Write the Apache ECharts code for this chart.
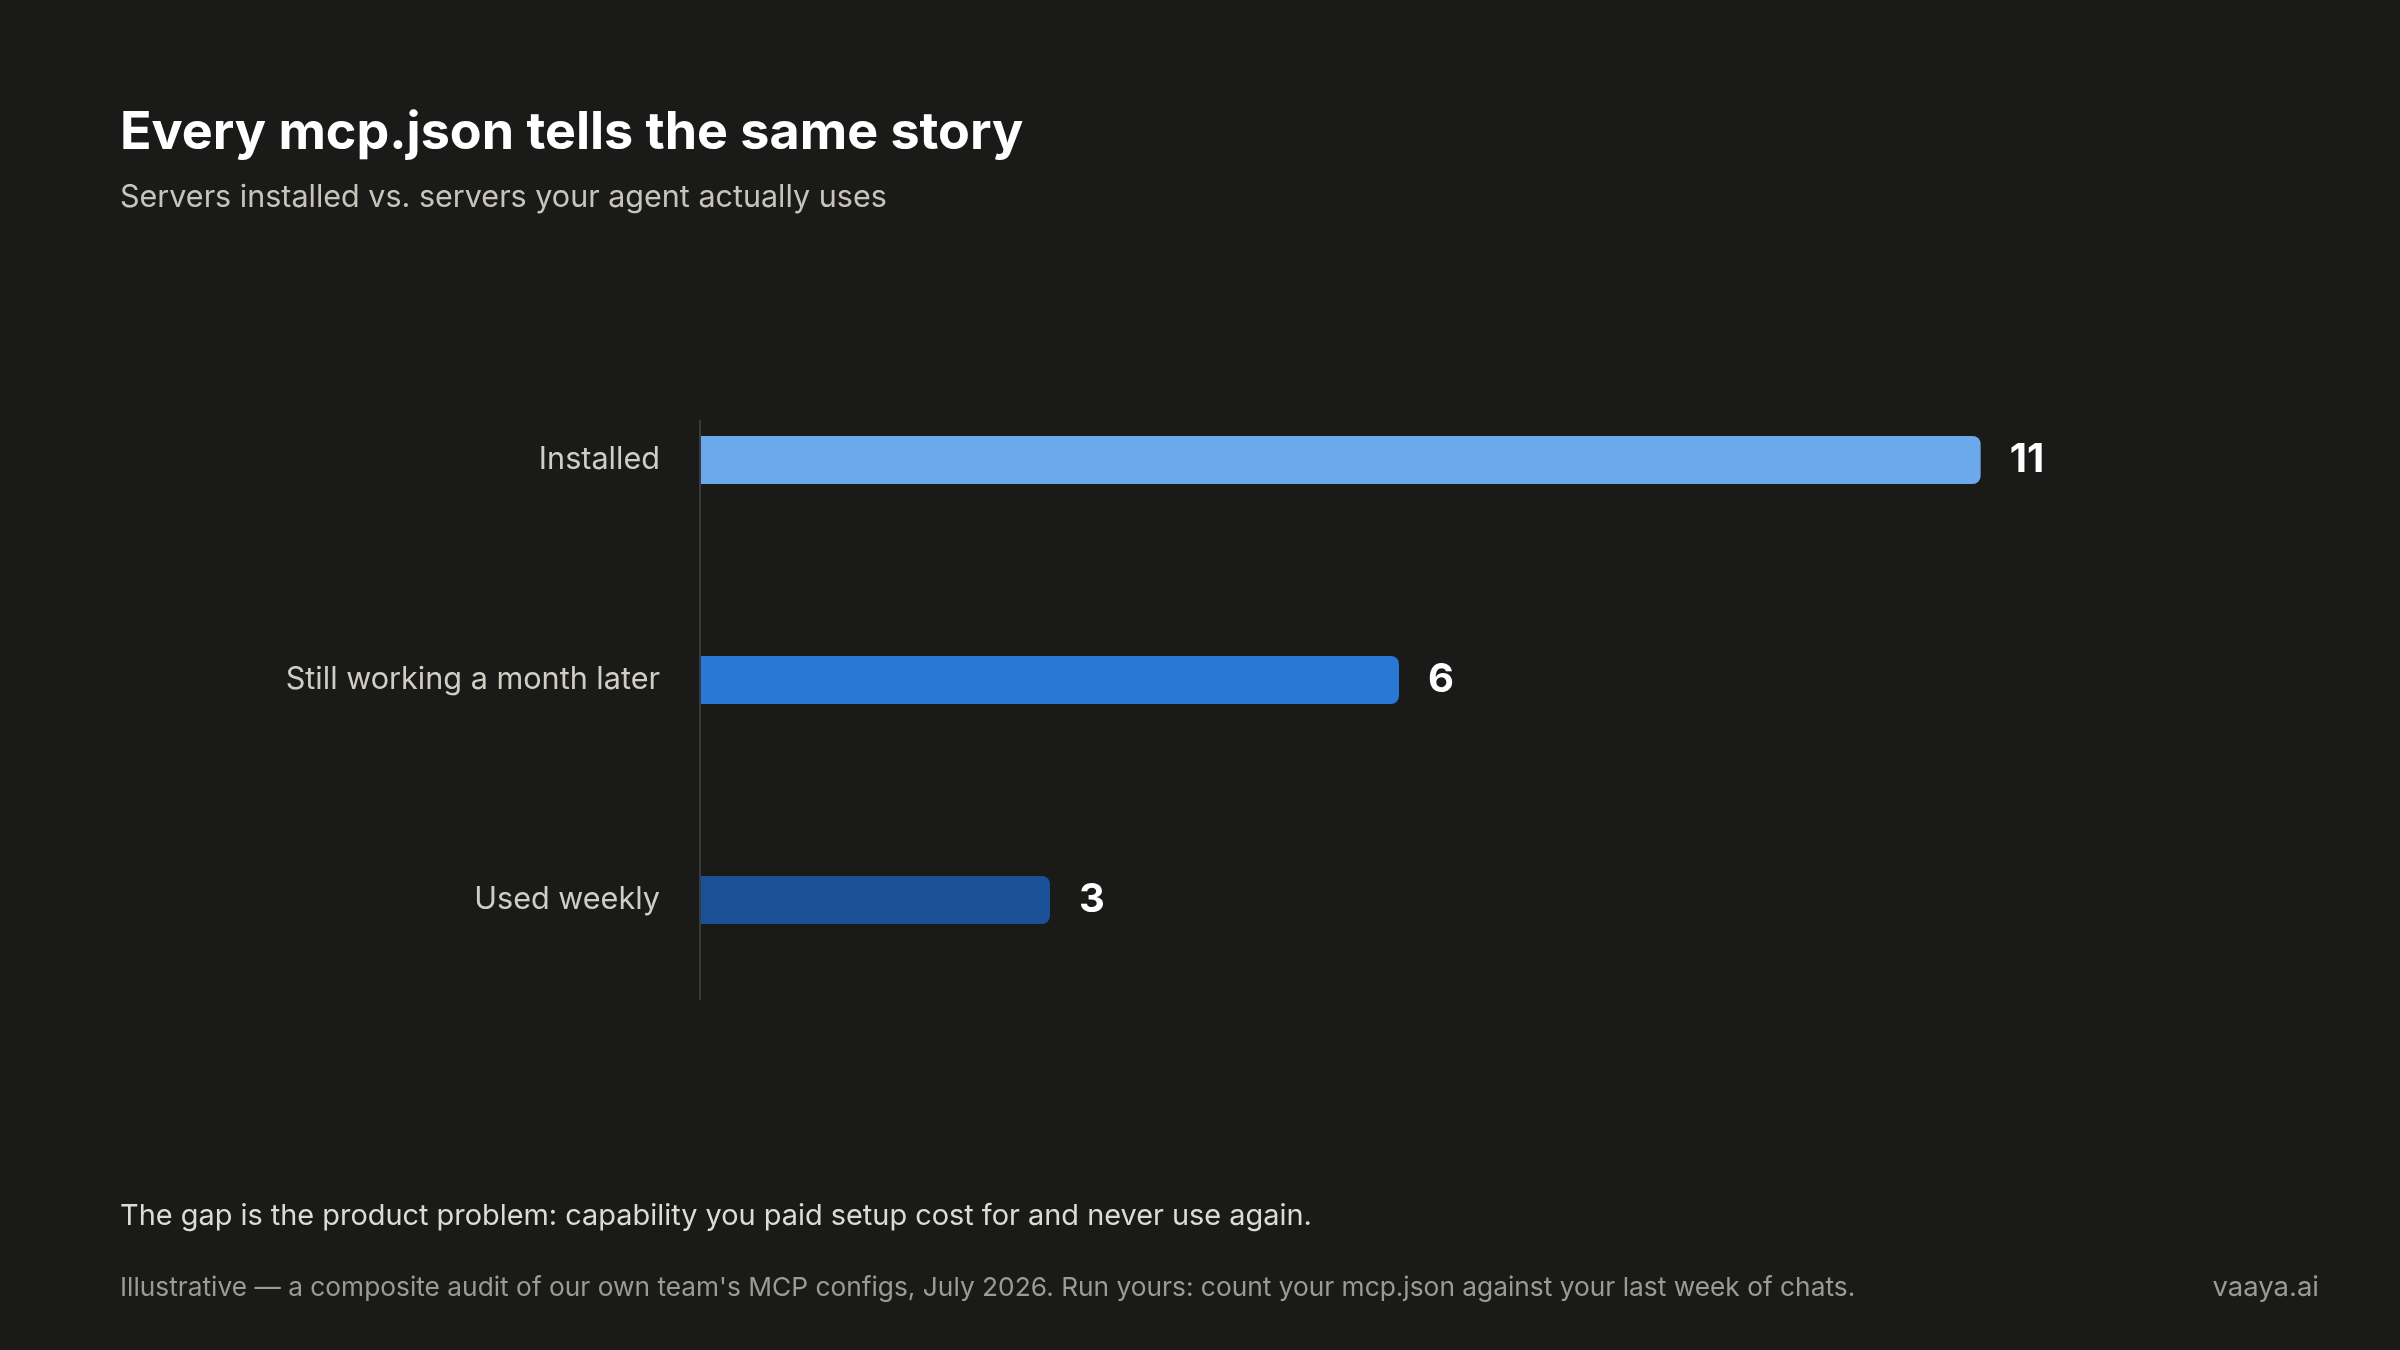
<!DOCTYPE html>
<html>
<head>
<meta charset="utf-8">
<title>Every mcp.json tells the same story</title>
<script src="https://cdn.jsdelivr.net/npm/echarts@6/dist/echarts.min.js"></script>
<style>
    html, body { margin: 0; padding: 0; background: #1a1a19; }
    #chart { width: 2400px; height: 1350px; }
</style>
</head>
<body>
<div id="chart"></div>
<script>
var categories = ['Installed', 'Still working a month later', 'Used weekly'];
var serverCounts = [11, 6, 3];
var barColors = ['#6ca8ec', '#2a78d6', '#1a5096'];

var font = 'Inter, "Noto Sans", sans-serif';

var myChart = echarts.init(document.getElementById('chart'));

myChart.setOption({
    backgroundColor: '#1a1a19',
    textStyle: { fontFamily: font },
    title: [
        {
            text: 'Every mcp.json tells the same story',
            left: 115, top: 102,
            textStyle: { color: '#ffffff', fontSize: 52, fontWeight: 'bold', fontFamily: font, lineHeight: 52 }
        },
        {
            text: 'Servers installed vs. servers your agent actually uses',
            left: 115, top: 178,
            textStyle: { color: '#c6c4bb', fontSize: 30.5, fontWeight: 'normal', fontFamily: font, lineHeight: 30 }
        },
        {
            text: 'The gap is the product problem: capability you paid setup cost for and never use again.',
            left: 115, top: 1197,
            textStyle: { color: '#dddbd3', fontSize: 28.9, fontWeight: 'normal', fontFamily: font, lineHeight: 29 }
        },
        {
            text: 'Illustrative \u2014 a composite audit of our own team\'s MCP configs, July 2026. Run yours: count your mcp.json against your last week of chats.',
            left: 115, top: 1270,
            textStyle: { color: '#9b9a93', fontSize: 26.3, fontWeight: 'normal', fontFamily: font, lineHeight: 26 }
        },
        {
            text: 'vaaya.ai',
            right: 76, top: 1269,
            textStyle: { color: '#9b9a93', fontSize: 27.5, fontWeight: 'normal', fontFamily: font, lineHeight: 27 }
        }
    ],
    grid: { left: 701, right: 303, top: 350, bottom: 340 },
    xAxis: {
        type: 'value',
        min: 0,
        max: 12,
        show: false
    },
    yAxis: {
        type: 'category',
        inverse: true,
        data: categories,
        axisLine: { show: false },
        axisTick: { show: false },
        splitLine: { show: false },
        axisLabel: {
            margin: 41,
            fontSize: 30.6,
            color: '#cfcdc4',
            fontFamily: font
        }
    },
    series: [{
        type: 'bar',
        barWidth: 48,
        data: serverCounts.map(function (v, i) {
            return { value: v, itemStyle: { color: barColors[i] } };
        }),
        itemStyle: { borderRadius: [0, 8, 8, 0] },
        label: {
            show: true,
            position: 'right',
            distance: 29,
            fontSize: 40,
            fontWeight: 'bold',
            color: '#ffffff',
            fontFamily: font
        },
        silent: true
    }]
});

// thin baseline rule next to the category labels
var x0 = myChart.convertToPixel({ xAxisIndex: 0 }, 0);
myChart.setOption({
    graphic: [{
        type: 'line',
        shape: { x1: x0 - 1, y1: 420, x2: x0 - 1, y2: 1000 },
        style: { stroke: '#3a3a3a', lineWidth: 2 },
        silent: true
    }]
});
</script>
</body>
</html>
